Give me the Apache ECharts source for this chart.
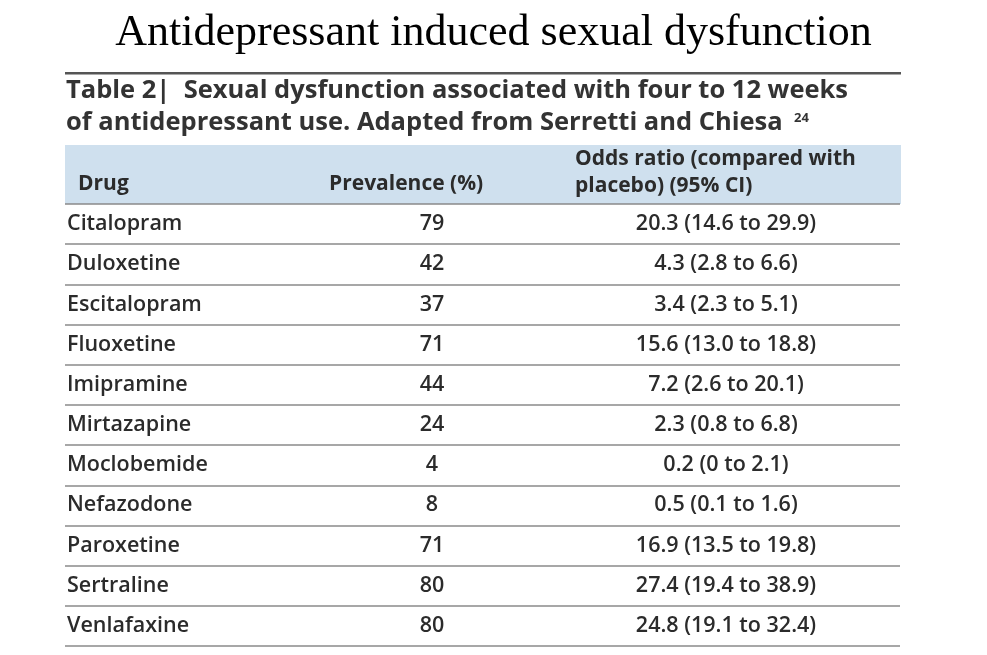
<!DOCTYPE html>
<html><head><meta charset="utf-8">
<script src="https://cdn.jsdelivr.net/npm/echarts@6/dist/echarts.min.js"></script>
<style>html,body{margin:0;background:#fff}#c{width:987px;height:655px}</style></head>
<body><div id="c"></div>
<script>
const drugs=["Citalopram","Duloxetine","Escitalopram","Fluoxetine","Imipramine","Mirtazapine","Moclobemide","Nefazodone","Paroxetine","Sertraline","Venlafaxine"];
const prevalence=[79,42,37,71,44,24,4,8,71,80,80];
const oddsRatio=["20.3 (14.6 to 29.9)","4.3 (2.8 to 6.6)","3.4 (2.3 to 5.1)","15.6 (13.0 to 18.8)","7.2 (2.6 to 20.1)","2.3 (0.8 to 6.8)","0.2 (0 to 2.1)","0.5 (0.1 to 1.6)","16.9 (13.5 to 19.8)","27.4 (19.4 to 38.9)","24.8 (19.1 to 32.4)"];
const columns=["Drug","Prevalence (%)","Odds ratio (compared with\nplacebo) (95% CI)"];
const chart=echarts.init(document.getElementById('c'));
const F='"Open Sans", "Noto Sans", sans-serif';
const txt='#2b2b2b';
chart.setOption({
  animation:false,
  title:{text:'Antidepressant induced sexual dysfunction',left:'center',top:6,
    textStyle:{fontFamily:'"Liberation Serif", serif',fontSize:44,fontWeight:'normal',color:'#000'}},
  grid:{left:65,right:87,top:204,bottom:9},
  xAxis:{type:'value',min:0,max:1,show:false},
  yAxis:{type:'category',data:drugs,inverse:true,axisLine:{show:false},axisTick:{show:false},axisLabel:{show:false},
    splitLine:{show:true,lineStyle:{color:'#8a8a8a',width:1.5}}},
  graphic:[
    {type:'rect',shape:{x:65,y:72,width:836,height:2.5},style:{fill:'#555'}},
    {type:'text',left:66,top:75,style:{text:'Table 2|  Sexual dysfunction associated with four to 12 weeks\nof antidepressant use. Adapted from Serretti and Chiesa',
      font:'bold 25.5px '+F,fill:'#333',lineHeight:32}},
    {type:'text',left:794,top:112,style:{text:'24',font:'bold 13px '+F,fill:'#333'}},
    {type:'rect',shape:{x:65,y:145,width:836,height:59},style:{fill:'#cfe0ee'}},
    {type:'text',left:78,top:174,style:{text:columns[0],font:'bold 21px '+F,fill:txt}},
    {type:'text',left:329,top:174,style:{text:columns[1],font:'bold 21px '+F,fill:txt}},
    {type:'text',left:575,top:146,style:{text:columns[2],font:'bold 21px '+F,fill:txt,lineHeight:27}}
  ],
  series:[{type:'custom',data:drugs.map((d,i)=>[0,i]),
    renderItem:(p,api)=>{
      const i=api.value(1);const y=api.coord([0,i])[1];
      const s={font:'600 21.5px '+F,fill:txt,verticalAlign:'middle'};
      return {type:'group',children:[
        {type:'text',style:Object.assign({},s,{text:drugs[i],x:67,y:y,align:'left'})},
        {type:'text',style:Object.assign({},s,{text:String(prevalence[i]),x:432,y:y,align:'center'})},
        {type:'text',style:Object.assign({},s,{text:oddsRatio[i],x:726,y:y,align:'center'})}
      ]};
    }}]
});
</script></body></html>
